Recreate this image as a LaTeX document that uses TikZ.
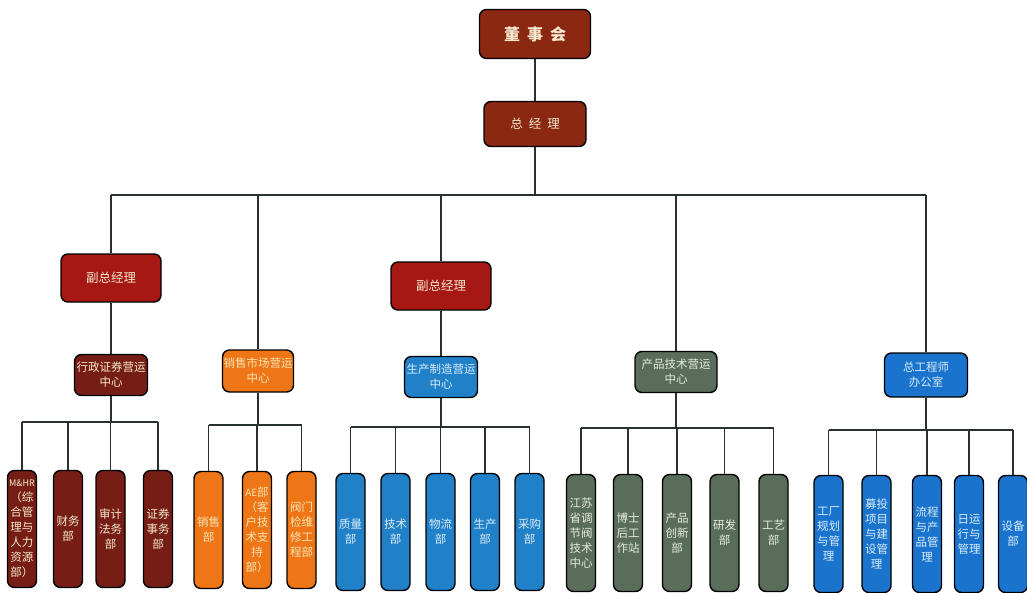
\documentclass[tikz,border=0pt]{standalone}
\usepackage{fontspec}
\newfontfamily\cjk{Noto Sans CJK SC}
\definecolor{topfill}{RGB}{138,40,18}
\definecolor{vpfill}{RGB}{165,24,20}
\definecolor{marfill}{RGB}{118,30,22}
\definecolor{orgfill}{RGB}{238,118,22}
\definecolor{bluefill}{RGB}{32,128,200}
\definecolor{grnfill}{RGB}{90,108,90}
\definecolor{blu2fill}{RGB}{26,116,205}
\definecolor{txtcream}{RGB}{245,232,205}
\definecolor{txtorg}{RGB}{250,228,180}
\definecolor{txtblue}{RGB}{218,236,250}
\definecolor{txtgrn}{RGB}{228,236,224}
\definecolor{linec}{RGB}{40,48,48}
\tikzset{
 box/.style={draw=black, line width=1.4pt, rounded corners=7pt, align=center, inner sep=0pt, font=\cjk\fontsize{11.5}{15}\selectfont},
 leaf/.style={box, minimum width=29pt, minimum height=117pt},
 midbox/.style={box, minimum height=41pt},
 link/.style={draw=linec, line width=1.2pt},
 marS/.style={fill=marfill, text=txtcream},
 orgS/.style={fill=orgfill, text=txtorg},
 bluS/.style={fill=bluefill, text=txtblue},
 grnS/.style={fill=grnfill, text=txtgrn},
 bl2S/.style={fill=blu2fill, text=txtblue},
}
\begin{document}
\begin{tikzpicture}[x=1pt,y=-1pt]
\fill[white] (0,0) rectangle (1027,592);
\useasboundingbox (0,0) rectangle (1027,592);
\clip (0,0) rectangle (1027,592);
% top
\node[box, fill=topfill, text=txtcream, minimum width=111pt, minimum height=49pt, font=\cjk\fontsize{16}{18}\selectfont\bfseries] (dsh) at (535,34) {董\hspace{7pt}事\hspace{7pt}会};
\node[box, fill=topfill, text=txtcream, minimum width=102pt, minimum height=45pt, font=\cjk\fontsize{12.5}{15}\selectfont] (zjl) at (535,124) {总\hspace{6pt}经\hspace{6pt}理};
\node[box, fill=vpfill, text=txtcream, minimum width=100pt, minimum height=48pt, font=\cjk\fontsize{12.5}{15}\selectfont] (fzL) at (111,278) {副总经理};
\node[box, fill=vpfill, text=txtcream, minimum width=100pt, minimum height=48pt, font=\cjk\fontsize{12.5}{15}\selectfont] (fzM) at (441,286) {副总经理};
% middle
\node[midbox, marS, minimum width=73pt] (xz) at (111,375) {行政证券营运\\中心};
\node[midbox, orgS, minimum width=71pt, minimum height=42pt] (xs) at (258,371) {销售市场营运\\中心};
\node[midbox, bluS, minimum width=73pt] (sc) at (441,377) {生产制造营运\\中心};
\node[midbox, grnS, minimum width=82pt] (cp) at (676,372) {产品技术营运\\中心};
\node[midbox, bl2S, minimum width=83pt, minimum height=44pt] (zg) at (926,375) {总工程师\\办公室};
% leaves maroon
\node[leaf, marS] (m1) at (22,529) {{\fontsize{9}{15}\selectfont M\&HR}\\（综\\合管\\理与\\人力\\资源\\部）};
\node[leaf, marS] (m2) at (68,529) {财务\\部};
\node[leaf, marS] (m3) at (110.5,529) {审计\\法务\\部};
\node[leaf, marS] (m4) at (158,529) {证券\\事务\\部};
% orange
\node[leaf, orgS] (o1) at (208.5,530) {销售\\部};
\node[leaf, orgS] (o2) at (257,530) {{\fontsize{10}{15}\selectfont AE}部\\（客\\户技\\术支\\持\\部）};
\node[leaf, orgS] (o3) at (301.5,530) {阀门\\检维\\修工\\程部};
% blue
\node[leaf, bluS] (b1) at (350.5,532) {质量\\部};
\node[leaf, bluS] (b2) at (395.5,532) {技术\\部};
\node[leaf, bluS] (b3) at (440.5,532) {物流\\部};
\node[leaf, bluS] (b4) at (485,532) {生产\\部};
\node[leaf, bluS] (b5) at (529.5,532) {采购\\部};
% green
\node[leaf, grnS] (g1) at (581,533) {江苏\\省调\\节阀\\技术\\中心};
\node[leaf, grnS] (g2) at (628,533) {博士\\后工\\作站};
\node[leaf, grnS] (g3) at (677,533) {产品\\创新\\部};
\node[leaf, grnS] (g4) at (724.5,533) {研发\\部};
\node[leaf, grnS] (g5) at (773.5,533) {工艺\\部};
% blue2
\node[leaf, bl2S] (e1) at (828.5,534) {工厂\\规划\\与管\\理};
\node[leaf, bl2S] (e2) at (876.5,534) {募投\\项目\\与建\\设管\\理};
\node[leaf, bl2S] (e3) at (927,534) {流程\\与产\\品管\\理};
\node[leaf, bl2S] (e4) at (969,534) {日运\\行与\\管理};
\node[leaf, bl2S] (e5) at (1013,534) {设备\\部};
% connectors top
\coordinate (bus) at (0,195);
\draw[link] (dsh.south) -- (zjl.north);
\draw[link] (zjl.south) -- (zjl.south |- bus);
\draw[link] (fzL.north |- bus) -- (zg.north |- bus);
\draw[link] (fzL.north) -- (fzL.north |- bus);
\draw[link] (xs.north) -- (xs.north |- bus);
\draw[link] (fzM.north) -- (fzM.north |- bus);
\draw[link] (cp.north) -- (cp.north |- bus);
\draw[link] (zg.north) -- (zg.north |- bus);
\draw[link] (fzL.south) -- (xz.north);
\draw[link] (fzM.south) -- (sc.north);
% group buses
\coordinate (mbus) at (0,422);
\coordinate (obus) at (0,425);
\coordinate (bbus) at (0,427);
\coordinate (gbus) at (0,428);
\coordinate (ebus) at (0,430);
\draw[link] (xz.south) -- (xz.south |- mbus);
\draw[link] (m1.north |- mbus) -- (m4.north |- mbus);
\foreach \n in {m1,m2,m3,m4} \draw[link] (\n.north) -- (\n.north |- mbus);
\draw[link] (xs.south) -- (xs.south |- obus);
\draw[link] (o1.north |- obus) -- (o3.north |- obus);
\foreach \n in {o1,o2,o3} \draw[link] (\n.north) -- (\n.north |- obus);
\draw[link] (sc.south) -- (sc.south |- bbus);
\draw[link] (b1.north |- bbus) -- (b5.north |- bbus);
\foreach \n in {b1,b2,b3,b4,b5} \draw[link] (\n.north) -- (\n.north |- bbus);
\draw[link] (cp.south) -- (cp.south |- gbus);
\draw[link] (g1.north |- gbus) -- (g5.north |- gbus);
\foreach \n in {g1,g2,g3,g4,g5} \draw[link] (\n.north) -- (\n.north |- gbus);
\draw[link] (zg.south) -- (zg.south |- ebus);
\draw[link] (e1.north |- ebus) -- (e5.north |- ebus);
\foreach \n in {e1,e2,e3,e4,e5} \draw[link] (\n.north) -- (\n.north |- ebus);
\end{tikzpicture}
\end{document}
